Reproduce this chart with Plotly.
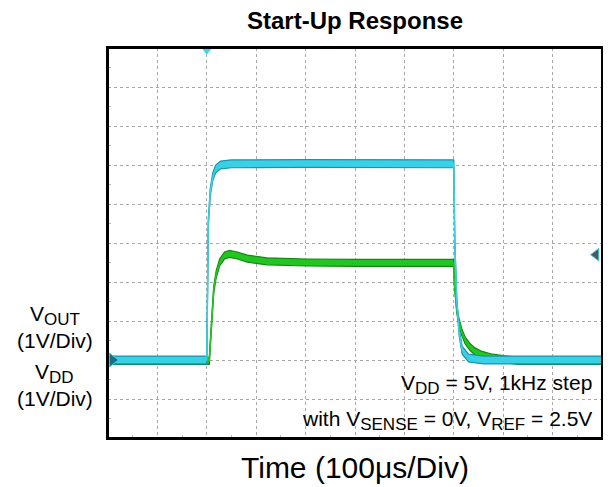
import numpy as np
import plotly.graph_objects as go

# ---- data (time in microseconds, voltage in volts) ----
vdd_t = [0, 199, 200, 203, 207, 212, 218, 228, 250, 400, 600, 699, 700, 702, 706, 711, 717, 730, 760, 1000]
vdd_v = [0, 0, 0, 3.5, 4.3, 4.7, 4.9, 5.0, 5.03, 5.04, 5.04, 5.04, 5.03, 3.0, 1.5, 0.7, 0.25, 0.05, 0.0, 0.0]

vout_t = [0, 205, 209, 214, 219, 226, 236, 246, 262, 282, 322, 402, 500, 699,
          700, 701, 703, 706, 710, 716, 723, 733, 743, 757, 775, 800, 830, 1000]
vout_v = [-0.02, -0.02, 0.8, 1.8, 2.2, 2.5, 2.68, 2.72, 2.68, 2.6, 2.53, 2.5, 2.49, 2.49,
          2.49, 2.0, 1.7, 1.3, 1.0, 0.72, 0.5, 0.33, 0.22, 0.13, 0.07, 0.02, -0.02, -0.02]

trigger_time = 200
trigger_level = 2.7
channel_offset = 0

x_range = [0, 1000]
y_range = [-2, 8]

fig = go.Figure()


def band(t, v, half, dark, light, name):
    t = np.array(t, float)
    v = np.array(v, float)
    fig.add_trace(go.Scatter(x=t, y=v - half, mode="lines",
                             line=dict(color=dark, width=1.2),
                             showlegend=False, hoverinfo="skip"))
    fig.add_trace(go.Scatter(x=t, y=v + half, mode="lines",
                             line=dict(color=dark, width=1.2),
                             fill="tonexty", fillcolor=light,
                             showlegend=False, name=name))
    fig.add_trace(go.Scatter(x=t, y=v, mode="lines",
                             line=dict(color=light, width=1.5),
                             showlegend=False, hoverinfo="skip"))


band(vout_t, vout_v, 0.09, "#0E8A0E", "#24C424", "VOUT")
band(vdd_t, vdd_v, 0.1, "#1A93A8", "#3AD0E6", "VDD")

# trigger position marker (top)
fig.add_trace(go.Scatter(x=[trigger_time], y=[y_range[1] - 0.07], mode="markers",
                         marker=dict(symbol="triangle-down", size=8, color="#3AD8EE"),
                         cliponaxis=False, showlegend=False, hoverinfo="skip"))
# channel ground marker (left)
fig.add_trace(go.Scatter(x=[9], y=[channel_offset], mode="markers",
                         marker=dict(symbol="triangle-right", size=12, color="#1B6F80",
                                     line=dict(color="#3AD0E6", width=1)),
                         cliponaxis=False, showlegend=False, hoverinfo="skip"))
# trigger level marker (right)
fig.add_trace(go.Scatter(x=[988], y=[trigger_level], mode="markers",
                         marker=dict(symbol="triangle-left", size=11, color="#4A5A5E",
                                     line=dict(color="#3AD0E6", width=1)),
                         cliponaxis=False, showlegend=False, hoverinfo="skip"))

# white box behind the annotation text
fig.add_shape(type="rect", xref="x", yref="y", x0=351, x1=985, y0=-1.8, y1=-0.2,
              fillcolor="white", line=dict(width=0), layer="below")
# plot frame
fig.add_shape(type="rect", xref="paper", yref="paper", x0=0, x1=1, y0=0, y1=1,
              line=dict(color="black", width=2), layer="above")

axis_common = dict(showticklabels=False, showgrid=True, gridcolor="#A8A8A8",
                   griddash="dot", gridwidth=1, zeroline=False,
                   showline=True, mirror=True, linecolor="black", linewidth=2,
                   ticks="")

fig.update_xaxes(range=x_range, dtick=100, **axis_common,
                 minor=dict(dtick=50, ticks="inside", ticklen=3, tickcolor="#BBBBBB", showgrid=False))
fig.update_yaxes(range=y_range, dtick=1, **axis_common,
                 minor=dict(dtick=0.5, ticks="inside", ticklen=3, tickcolor="#BBBBBB", showgrid=False))

font_main = "Liberation Sans, Arial, sans-serif"

fig.update_layout(
    width=603, height=479,
    margin=dict(l=100, r=7, t=40, b=49),
    paper_bgcolor="white", plot_bgcolor="white",
    font=dict(family=font_main, color="black"),
)


def sub(s):
    return "<sub><span style='font-size:17px'>" + s + "</span></sub>"


# title
fig.add_annotation(text="<b>Start-Up Response</b>", xref="paper", yref="paper",
                   x=0.5, y=1 + 28 / 390, xanchor="center", yanchor="middle",
                   showarrow=False, font=dict(size=24, color="black"))
# x axis title
fig.add_annotation(text="Time (100μs/Div)", xref="paper", yref="paper",
                   x=0.5, y=-29 / 390, xanchor="center", yanchor="middle",
                   showarrow=False, font=dict(size=30, color="black"))

ann = [
    dict(text="V" + sub("OUT"), y=0.313),
    dict(text="(1V/Div)", y=0.249),
    dict(text="V" + sub("DD"), y=0.166),
    dict(text="(1V/Div)", y=0.102),
]
for a in ann:
    fig.add_annotation(text=a["text"], xref="paper", yref="paper", x=-0.108, y=a["y"],
                       xanchor="center", yanchor="middle", showarrow=False,
                       font=dict(size=21, color="black"))

fig.add_annotation(text="V" + sub("DD") + " = 5V, 1kHz step", xref="paper", yref="paper",
                   x=0.983, y=0.136, xanchor="right", yanchor="middle", showarrow=False,
                   font=dict(size=21, color="black"))
fig.add_annotation(text="with V" + sub("SENSE") + " = 0V, V" + sub("REF") + " = 2.5V",
                   xref="paper", yref="paper",
                   x=0.983, y=0.046, xanchor="right", yanchor="middle", showarrow=False,
                   font=dict(size=21, color="black"))

fig.write_html("out.html")
